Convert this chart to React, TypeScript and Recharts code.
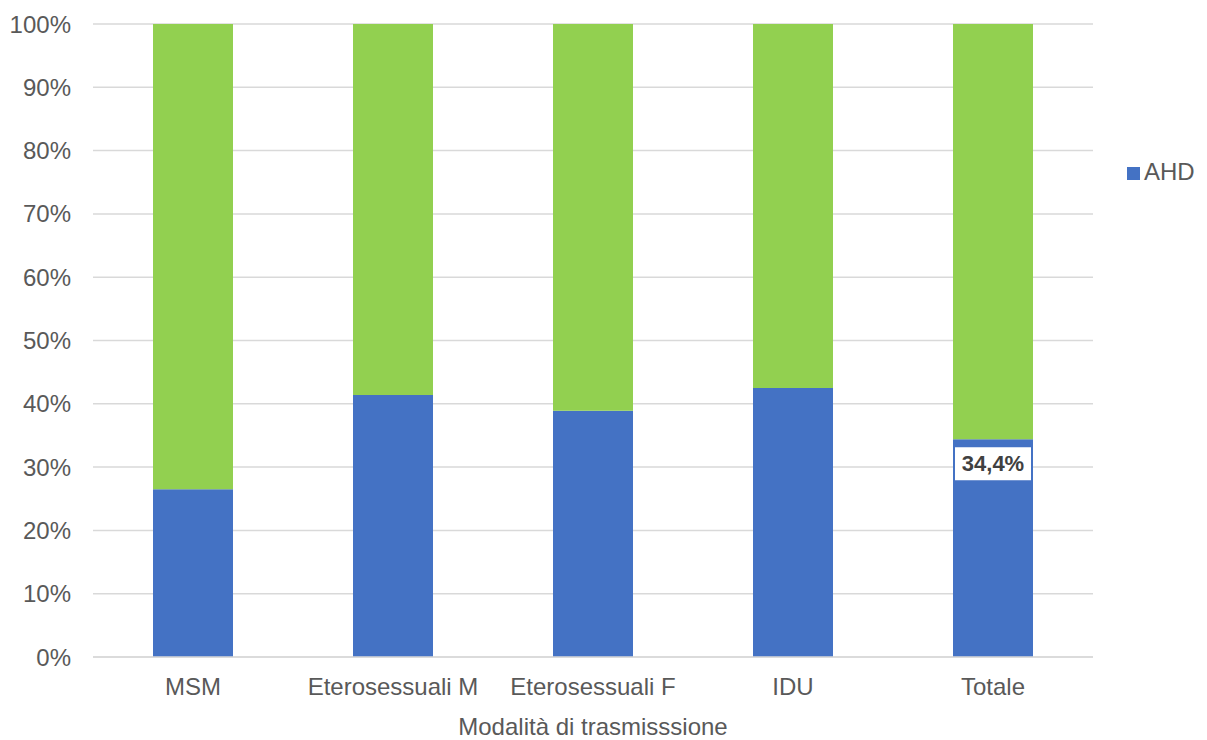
import { BarChart, Bar, XAxis, YAxis, CartesianGrid, Legend, LabelList, Label } from "recharts";

// Share of AHD by transmission group (percent)
const categories = ["MSM", "Eterosessuali M", "Eterosessuali F", "IDU", "Totale"];
const ahdValues = [26.5, 41.4, 38.9, 42.5, 34.4];
const otherValues = [73.5, 58.6, 61.1, 57.5, 65.6];
const yTicks = [0, 10, 20, 30, 40, 50, 60, 70, 80, 90, 100];

const data = categories.map((name, i) => ({ name, ahd: ahdValues[i], other: otherValues[i] }));

const FONT = "'Liberation Sans', Arial, sans-serif";
const TEXT = "#595959";
const FS = 24;

const fmtPct = (v: number) => `${v.toFixed(1).replace(".", ",")}%`;

// only the total bar carries a value label
const TotalLabel = (props: any) => {
  const { x, y, width, index, value } = props;
  if (index !== categories.length - 1) return null;
  const boxH = 33;
  const top = y + 8;
  return (
    <g>
      <rect x={x + 2} y={top} width={width - 4} height={boxH} fill="#fff" />
      <text
        x={x + width / 2}
        y={top + boxH / 2}
        textAnchor="middle"
        dominantBaseline="central"
        fontFamily={FONT}
        fontWeight="bold"
        fontSize={22}
        fill="#404040"
      >
        {fmtPct(Number(value))}
      </text>
    </g>
  );
};

export default function App() {
  return (
    <div style={{ position: "absolute", left: 0, top: 0, background: "#fff", fontFamily: FONT }}>
      <BarChart
        width={1207}
        height={740}
        data={data}
        margin={{ top: 24, right: 34, left: 0, bottom: 0 }}
        barCategoryGap="30%"
      >
        <CartesianGrid vertical={false} stroke="#D9D9D9" strokeWidth={1.5} />
        <XAxis
          dataKey="name"
          height={83}
          tickLine={false}
          axisLine={{ stroke: "#D9D9D9", strokeWidth: 1.5 }}
          tickMargin={15}
          tick={{ fontSize: FS, fill: TEXT, fontFamily: FONT }}
          interval={0}
        >
          <Label
            value="Modalità di trasmisssione"
            position="insideBottom"
            offset={5}
            style={{ fontSize: FS, fill: TEXT, fontFamily: FONT }}
          />
        </XAxis>
        <YAxis
          width={93}
          domain={[0, 100]}
          ticks={yTicks}
          tickFormatter={(v: number) => `${v}%`}
          axisLine={false}
          tickLine={false}
          tickMargin={16}
          tick={{ fontSize: FS, fill: TEXT, fontFamily: FONT }}
          interval={0}
        />
        <Legend
          layout="vertical"
          verticalAlign="top"
          align="right"
          iconType="square"
          iconSize={13}
          wrapperStyle={{ left: 1127, top: 158, width: 80, fontSize: FS, fontFamily: FONT }}
          formatter={(value: string) => <span style={{ color: TEXT }}>{value}</span>}
        />
        <Bar dataKey="ahd" name="AHD" stackId="a" fill="#4472C4" isAnimationActive={false}>
          <LabelList dataKey="ahd" content={TotalLabel} />
        </Bar>
        <Bar dataKey="other" name="Altro" stackId="a" fill="#92D050" legendType="none" isAnimationActive={false} />
      </BarChart>
    </div>
  );
}
